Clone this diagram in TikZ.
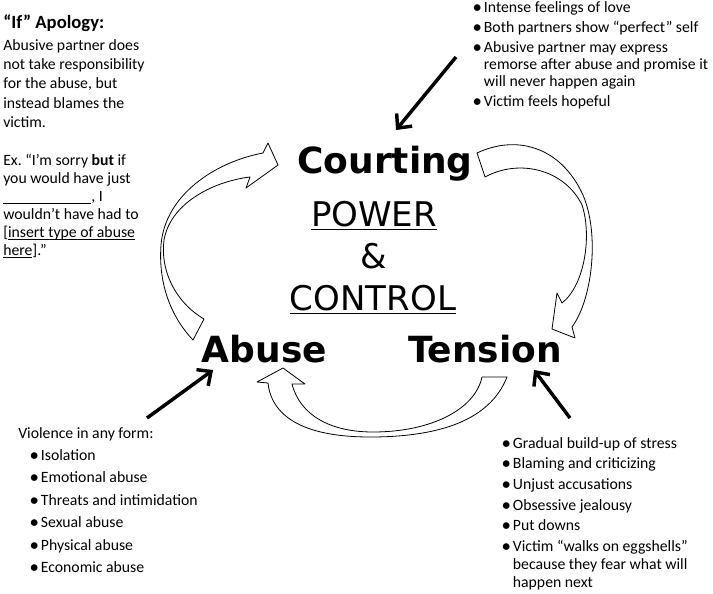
\documentclass[tikz,border=0pt]{standalone}
\usepackage{fontspec}
\setmainfont{Carlito}
\newfontfamily\stagefont{DejaVu Sans}
\usetikzlibrary{arrows.meta,positioning}

\def\bul{\makebox[8pt][l]{\bfseries\textbullet}}
\def\uln#1{\setbox0\hbox{#1}\rlap{\rule[-1.8pt]{\wd0}{.5pt}}\box0}
\tikzset{stage/.style={inner sep=0pt,anchor=base,font=\stagefont\bfseries\fontsize{27}{30}\selectfont},
  theme/.style={inner sep=0pt,anchor=base,font=\stagefont\fontsize{25.5}{30}\selectfont},
  notes/.style={inner sep=0pt,anchor=base west,font=\fontsize{11.8}{12.75}\selectfont},
  cyclearrow/.style={draw,fill=white,line width=.6pt,line join=round},
  pointer/.style={line width=2.6pt,-{Straight Barb[length=8pt,width=15pt]}}}

\begin{document}
\begin{tikzpicture}[x=.75pt,y=-.75pt]
  \useasboundingbox (0,0) rectangle (713,593);
  % the cycle
  \draw[cyclearrow] (263,153) .. controls (215,162) and (165,195) .. (161,245)
    .. controls (158,285) and (172,318) .. (193,340) -- (204,319)
    .. controls (175,302) and (160,270) .. (164,240)
    .. controls (170,205) and (210,182) .. (250,177) -- (246,188) -- (278,165) -- (268,143) -- cycle;
  \draw[cyclearrow] (477,153) .. controls (515,135) and (560,145) .. (583,195)
    .. controls (600,235) and (592,300) .. (572,327) -- (575,338) -- (552,329) -- (557,293) -- (562,303)
    .. controls (585,285) and (592,235) .. (582,205)
    .. controls (565,170) and (520,158) .. (485,177) -- cycle;
  \draw[cyclearrow] (507,377) .. controls (490,420) and (440,437) .. (370,437)
    .. controls (310,437) and (272,420) .. (268,383) -- (257,382) -- (283,368) -- (305,384) -- (292,384)
    .. controls (300,415) and (330,432) .. (373,432)
    .. controls (430,432) and (475,410) .. (482,377) -- cycle;
  \node[stage] (courting) at (385,173) {Courting};
  \node[stage] (abuse) at (264.5,362) {Abuse};
  \node[stage] (tension) at (485,362) {Tension};
  \node[theme] (power) at (374,226) {POWER};
  \node[theme] (amp) at (374,268) {\&};
  \node[theme] (control) at (373,310) {CONTROL};
  \draw[line width=1.3pt] ([yshift=-2.6pt]power.base west) -- ([yshift=-2.6pt]power.base east);
  \draw[line width=1.3pt] ([yshift=-2.6pt]control.base west) -- ([yshift=-2.6pt]control.base east);
  % notes
  \node[notes,font=\bfseries\fontsize{14}{16}\selectfont] (apology) at (3,28.5) {“If” Apology:};
  \node[notes,font=\fontsize{11.8}{14.6}\selectfont] (blame) at (3,50) {\begin{tabular}[t]{@{}l@{}}
    Abusive partner does\\not take responsibility\\for the abuse, but\\instead blames the\\victim.
  \end{tabular}};
  \node[notes,font=\fontsize{11.8}{13.6}\selectfont] (excuse) at (3,165) {\begin{tabular}[t]{@{}l@{}}
    Ex.\ “I’m sorry \textbf{but} if\\you would have just\\\rule[-1.5pt]{66pt}{.5pt}, I\\wouldn’t have had to\\
    {[}\uln{insert type of abuse}\\\uln{here}].”
  \end{tabular}};
  \node[notes] (courtnotes) at (473,12) {\begin{tabular}[t]{@{}l@{}l@{}}
    \bul&Intense feelings of love\\[2.25pt]
    \bul&Both partners show “perfect” self\\[2.25pt]
    \bul&Abusive partner may express\\
    &remorse after abuse and promise it\\
    &will never happen again\\[2.25pt]
    \bul&Victim feels hopeful
  \end{tabular}};
  \node[notes,font=\fontsize{11.8}{16.8}\selectfont] (abusenotes) at (18,438) {\begin{tabular}[t]{@{}l@{}l@{}}
    \multicolumn{2}{@{}l@{}}{Violence in any form:}\\
    \hspace{9pt}\bul&Isolation\\
    \hspace{9pt}\bul&Emotional abuse\\
    \hspace{9pt}\bul&Threats and intimidation\\
    \hspace{9pt}\bul&Sexual abuse\\
    \hspace{9pt}\bul&Physical abuse\\
    \hspace{9pt}\bul&Economic abuse
  \end{tabular}};
  \node[notes,font=\fontsize{11.8}{13.5}\selectfont] (tensionnotes) at (502,448) {\begin{tabular}[t]{@{}l@{}l@{}}
    \bul&Gradual build-up of stress\\[2pt]
    \bul&Blaming and criticizing\\[2pt]
    \bul&Unjust accusations\\[2pt]
    \bul&Obsessive jealousy\\[2pt]
    \bul&Put downs\\[2pt]
    \bul&Victim “walks on eggshells”\\
    &because they fear what will\\
    &happen next
  \end{tabular}};
  % pointers
  \coordinate (lovetail) at (456,57);
  \coordinate (violencetail) at (147,418);
  \coordinate (stresstail) at (570,418);
  \draw[pointer] (lovetail) -- ([xshift=8.25pt,yshift=32.25pt]courting.base);
  \draw[pointer] (violencetail) -- ([xshift=-38.6pt,yshift=-6pt]abuse.base);
  \draw[pointer] (stresstail) -- ([xshift=36.75pt,yshift=-6pt]tension.base);
\end{tikzpicture}
\end{document}
